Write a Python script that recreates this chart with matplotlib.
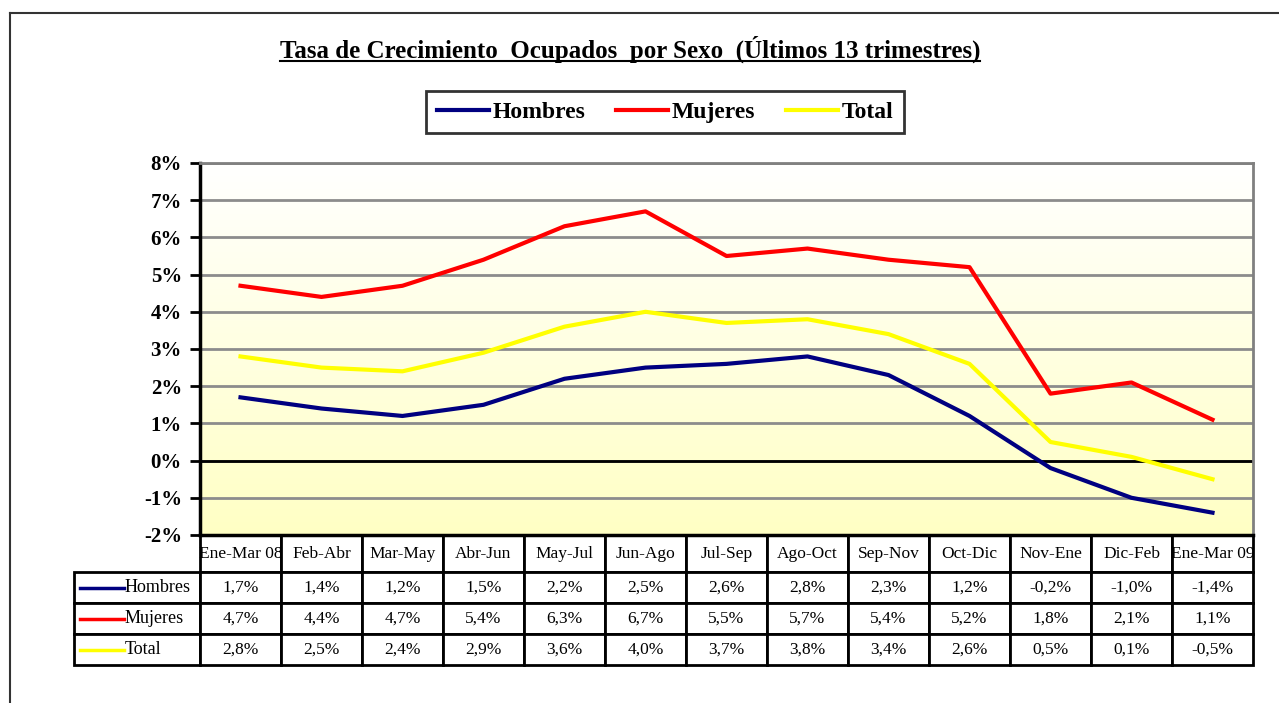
import matplotlib
matplotlib.use("Agg")
import matplotlib.pyplot as plt
import numpy as np
from matplotlib.table import Table
from matplotlib.lines import Line2D
from matplotlib.colors import LinearSegmentedColormap

# datos
periodos = ["Ene-Mar 08", "Feb-Abr", "Mar-May", "Abr-Jun", "May-Jul", "Jun-Ago",
            "Jul-Sep", "Ago-Oct", "Sep-Nov", "Oct-Dic", "Nov-Ene", "Dic-Feb", "Ene-Mar 09"]
hombres = [1.7, 1.4, 1.2, 1.5, 2.2, 2.5, 2.6, 2.8, 2.3, 1.2, -0.2, -1.0, -1.4]
mujeres = [4.7, 4.4, 4.7, 5.4, 6.3, 6.7, 5.5, 5.7, 5.4, 5.2, 1.8, 2.1, 1.1]
total = [2.8, 2.5, 2.4, 2.9, 3.6, 4.0, 3.7, 3.8, 3.4, 2.6, 0.5, 0.1, -0.5]
series_nombres = ["Hombres", "Mujeres", "Total"]
colores = ["#000080", "#FF0000", "#FFFF00"]
yticks = list(range(-2, 9))
titulo = "Tasa de Crecimiento  Ocupados  por Sexo  (Últimos 13 trimestres)"

plt.rcParams['font.family'] = ['Liberation Serif', 'DejaVu Serif']

W, H = 1279, 703
fig = plt.figure(figsize=(W / 100, H / 100), dpi=100)
fig.patch.set_facecolor("white")

# area del grafico
ax = fig.add_axes([200 / W, (H - 535) / H, 1053 / W, 372 / H])
x = np.arange(len(periodos))

# fondo degradado
cmap = LinearSegmentedColormap.from_list("fondo", ["#FFFFC4", "#FFFFFF"])
ax.imshow(np.linspace(0, 1, 256).reshape(-1, 1), cmap=cmap, origin="lower",
          extent=[-0.5, len(periodos) - 0.5, yticks[0], yticks[-1]],
          aspect="auto", zorder=0)

ax.yaxis.grid(True, color="#8C8C8C", linewidth=2)
ax.set_axisbelow(True)
ax.axhline(0, color="black", linewidth=2, zorder=1)

lineas = []
for vals, nombre, c in zip([hombres, mujeres, total], series_nombres, colores):
    ln, = ax.plot(x, vals, color=c, linewidth=3, label=nombre, zorder=3)
    lineas.append(ln)

ax.set_xlim(-0.5, len(periodos) - 0.5)
ax.set_ylim(yticks[0], yticks[-1])
ax.set_yticks(yticks)
ax.set_yticklabels([f"{v}%" for v in yticks], fontweight="bold")
ax.set_xticks([])
ax.tick_params(axis="y", direction="out", length=7, width=2, labelsize=15, pad=6)

for s in ["top", "right"]:
    ax.spines[s].set_color("#808080")
    ax.spines[s].set_linewidth(2)
ax.spines["left"].set_linewidth(2.5)
ax.spines["bottom"].set_linewidth(2.5)

# tabla de datos
col_w = 1 / len(periodos)
lab_w = 126 / 1053
head_h = 37 / 372
row_h = 31 / 372
tab_h = head_h + 3 * row_h
tab = Table(ax, bbox=[0, -tab_h, 1, tab_h])
for j, p in enumerate(periodos):
    tab.add_cell(0, j, width=col_w, height=head_h, text=p, loc="center",
                 facecolor="white", edgecolor="black")
for i, (nombre, vals) in enumerate(zip(series_nombres, [hombres, mujeres, total]), start=1):
    c = tab.add_cell(i, -1, width=lab_w, height=row_h, text=nombre, loc="left",
                     facecolor="white", edgecolor="black")
    c.PAD = 0.40
    for j, v in enumerate(vals):
        tab.add_cell(i, j, width=col_w, height=row_h,
                     text=f"{v:.1f}%".replace(".", ","), loc="center",
                     facecolor="white", edgecolor="black")
tab.auto_set_font_size(False)
tab.set_fontsize(12.5)
for (r_, c_), cell in tab.get_celld().items():
    cell.set_linewidth(2)
    if c_ == -1:
        cell.get_text().set_fontsize(13)
ax.add_table(tab)

# muestras de color en la tabla
for i, c in enumerate(colores, start=1):
    yc = -(head_h + (i - 0.5) * row_h)
    ax.plot([-lab_w + 6 / 1053, -lab_w + 50 / 1053], [yc, yc], color=c,
            linewidth=2.5, transform=ax.transAxes, clip_on=False, zorder=5)

# leyenda
leg = fig.legend(lineas, series_nombres, loc="center",
                 bbox_to_anchor=(665 / W, 1 - 112 / H), ncol=3, frameon=True,
                 fancybox=False, edgecolor="black", prop=dict(weight="bold", size=17),
                 handlelength=2.2, handletextpad=0.15, columnspacing=1.3,
                 borderpad=0.45)
leg.get_frame().set_linewidth(2)

# titulo subrayado
t = fig.text(630 / W, 1 - 49 / H, titulo, ha="center", va="center",
             weight="bold", size=18)
r = fig.canvas.get_renderer()
bb = t.get_window_extent(renderer=r)
fig.add_artist(Line2D([bb.x0 / W, bb.x1 / W], [1 - 61 / H, 1 - 61 / H],
                      color="black", linewidth=1.5))

# marco exterior
fig.add_artist(Line2D([10 / W, 10 / W], [0, 1 - 13 / H], color="#333333", linewidth=1.5))
fig.add_artist(Line2D([10 / W, 1], [1 - 13 / H, 1 - 13 / H], color="#333333", linewidth=1.5))

fig.savefig("out.png", dpi=100)
